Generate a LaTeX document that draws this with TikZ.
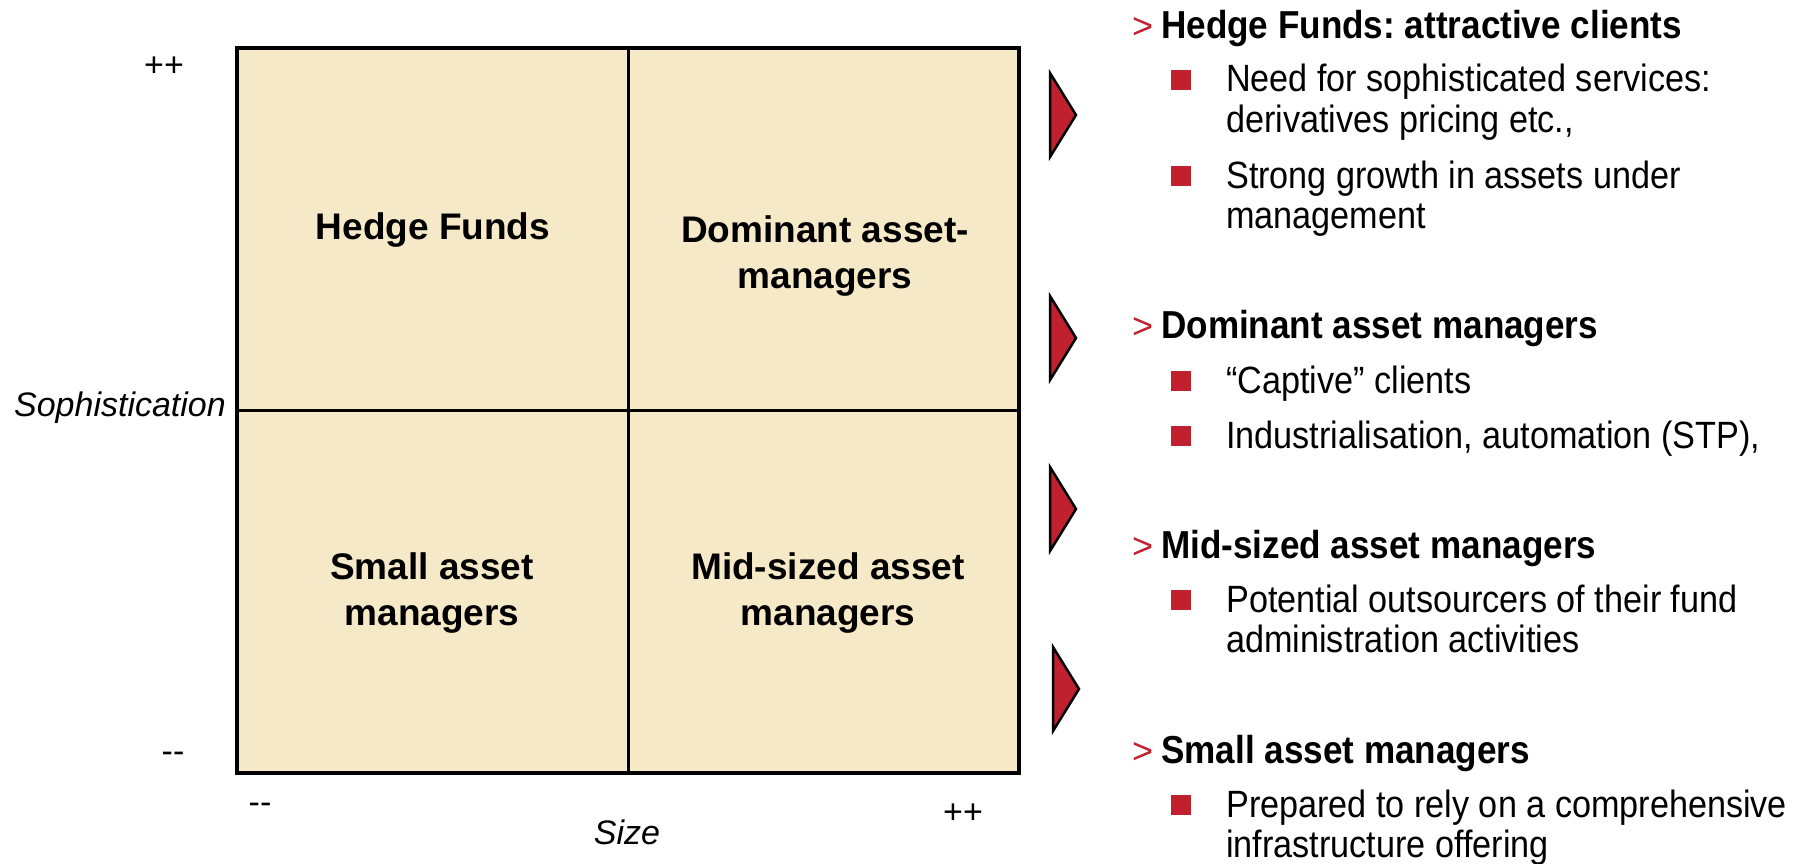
\documentclass[tikz,border=0pt]{standalone}
\usepackage{fontspec}
\setmainfont{Liberation Sans}
\newfontfamily\narrowsans[FakeStretch=0.9,Ligatures=TeX]{Liberation Sans}
\usetikzlibrary{positioning}
\definecolor{quadfill}{RGB}{246,233,200}
\definecolor{mkred}{RGB}{193,32,46}
\frenchspacing

\begin{document}
\begin{tikzpicture}[x=1pt,y=-1pt,
      quad/.style={anchor=base,align=center,inner sep=0pt,font=\fontsize{37}{46}\selectfont\bfseries},
      axis/.style={inner sep=0pt,font=\fontsize{34}{40}\selectfont},
      axisname/.style={axis,font=\fontsize{34}{40}\selectfont\itshape},
      head/.style={anchor=base west,inner sep=0pt,font=\narrowsans\fontsize{39}{42}\selectfont\bfseries},
      hmark/.style={anchor=base west,inner sep=0pt,text=mkred,font=\fontsize{36}{40}\selectfont},
      item/.style={anchor=base west,align=left,inner sep=0pt,font=\narrowsans\fontsize{38}{40}\selectfont},
      bsq/.style={fill=mkred,minimum size=20pt,inner sep=0pt},
      tri/.style={fill=mkred,draw=black,line width=2.5pt,line join=miter}
      ]
      \useasboundingbox (0,0) rectangle (1811,864);
      \fill[white] (0,0) rectangle (1811,864);

      % the matrix
      \coordinate (nw) at (237,48);
      \coordinate (se) at (1019,773);
      \coordinate (mt) at (628,48);
      \coordinate (mb) at (628,773);
      \coordinate (ml) at (237,410);
      \coordinate (mr) at (1019,410);
      \draw[fill=quadfill,line width=4pt] (nw) rectangle (se);
      \draw[line width=3pt] (mt) -- (mb);
      \draw[line width=3pt] (ml) -- (mr);

      % base of a two-line node is its last line
      \node[quad] (hf)  at (433,239) {Hedge Funds};
      \node[quad] (dom) at (825,288) {Dominant asset-\\managers};
      \node[quad] (sml) at (432,625) {Small asset\\managers};
      \node[quad] (mid) at (828,625) {Mid-sized asset\\managers};

      % axes
      \node[axis] (ytop) at (164,67) {++};
      \node[axis] (ybot) at (173,757) {-{}-};
      \node[axisname,anchor=east] (yname) at (226,408) {Sophistication};
      \node[axis] (xleft) at (260,808) {-{}-};
      \node[axis] (xright) at (963,814) {++};
      \node[axisname] (xname) at (627,832) {Size};

      % arrows
      \foreach \yc/\xl in {115/1050,338/1050,509/1050,689/1053}
        \draw[tri] (\xl,\yc-42) -- (\xl+26,\yc) -- (\xl,\yc+42) -- cycle;

      % right column
      \node[hmark] (m1) at (1132,39) {>};
      \node[head] (h1) at (1161,39) {Hedge Funds: attractive clients};
      \node[bsq] (s1) at (1181,80) {};
      \node[item] (t1) at (1226,132) {Need for sophisticated services:\\derivatives pricing etc.,};
      \node[bsq] (s2) at (1181,176) {};
      \node[item] (t2) at (1226,228) {Strong growth in assets under\\management};

      \node[hmark] (m2) at (1132,338) {>};
      \node[head] (h2) at (1161,338) {Dominant asset managers};
      \node[bsq] (s3) at (1181,381) {};
      \node[item] (t3) at (1226,393) {“Captive” clients};
      \node[bsq] (s4) at (1181,436) {};
      \node[item] (t4) at (1226,448) {Industrialisation, automation (STP),};

      \node[hmark] (m3) at (1132,558) {>};
      \node[head] (h3) at (1161,558) {Mid-sized asset managers};
      \node[bsq] (s5) at (1181,600) {};
      \node[item] (t5) at (1226,652) {Potential outsourcers of their fund\\administration activities};

      \node[hmark] (m4) at (1132,763) {>};
      \node[head] (h4) at (1161,763) {Small asset managers};
      \node[bsq] (s6) at (1181,805) {};
      \node[item] (t6) at (1226,857) {Prepared to rely on a comprehensive\\infrastructure offering};
    \end{tikzpicture}
\end{document}
